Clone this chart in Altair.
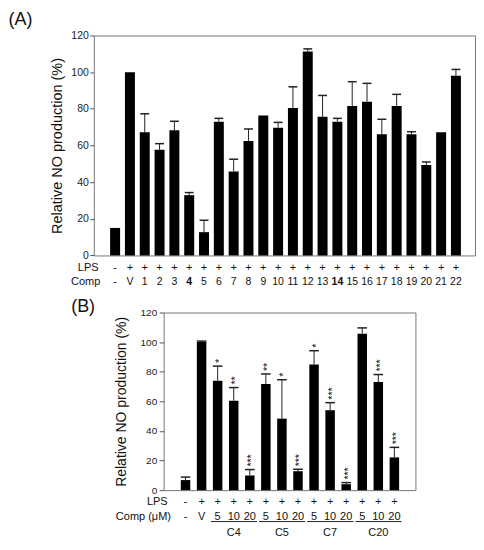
import altair as alt
import pandas as pd

# ---------------- Panel A data ----------------
comp_a = ["-", "V"] + [str(k) for k in range(1, 23)]
lps_a = ["-"] + ["+"] * 23
val_a = [15.0, 100.0, 67.2, 57.6, 68.3, 32.9, 12.7, 73.0, 45.8, 62.5, 76.4, 69.7,
         80.4, 111.3, 75.7, 73.0, 81.5, 83.9, 66.1, 81.5, 66.1, 49.4, 67.2, 98.0]
err_a = [0, 0, 10.1, 3.4, 4.9, 1.4, 6.5, 1.8, 6.7, 6.5, 0, 2.9,
         11.6, 1.4, 11.6, 1.8, 13.3, 10.0, 8.2, 6.4, 1.4, 1.6, 0, 3.5]
bold_a = ["4", "14"]

# ---------------- Panel B data ----------------
comp_b = ["-", "V", "5", "10", "20", "5", "10", "20", "5", "10", "20", "5", "10", "20"]
lps_b = ["-"] + ["+"] * 13
val_b = [6.8, 100.0, 73.9, 60.4, 9.9, 71.7, 48.3, 12.8, 84.9, 54.0, 4.0, 105.7, 73.0, 22.1]
err_b = [2.0, 0.7, 9.9, 8.9, 4.0, 6.8, 26.3, 1.3, 9.3, 5.1, 1.1, 3.9, 5.1, 6.8]
star_b = ["", "", "*", "**", "***", "**", "*", "***", "*", "***", "***", "", "***", "***"]
groups_b = ["C4", "C5", "C7", "C20"]

YTITLE = "Relative NO production (%)"
TXT = "#111111"
FRAME = "#777777"


def make_df(comp, lps, val, err):
    df = pd.DataFrame({"comp": comp, "lps": lps, "val": val, "err": err})
    df["i"] = range(len(df))
    df["top"] = df["val"] + df["err"]
    df["xl"] = df["i"] - 0.3
    df["xr"] = df["i"] + 0.3
    return df


one = pd.DataFrame({"a": [0]})


def panel(df, W, H, xdom, bar_size, yaxis, rows, tag, anchors):
    xs = alt.Scale(domain=xdom, nice=False, zero=False)
    ys = alt.Scale(domain=[0, 120], nice=False, zero=False)
    X = lambda f: alt.X(f, scale=xs, axis=None)
    Y = lambda f: alt.Y(f, scale=ys, title=YTITLE, axis=yaxis)
    base = alt.Chart(df)
    bars = base.mark_bar(size=bar_size, color="black", orient="vertical").encode(
        x=X("i:Q"),
        y=alt.Y("val:Q", scale=ys, stack=None, title=YTITLE, axis=yaxis),
    )
    eb = base.transform_filter("datum.err > 0")
    eline = eb.mark_rule(color="#222222", strokeWidth=1).encode(
        x=X("i:Q"), y=Y("val:Q"), y2="top:Q")
    ecap = eb.mark_rule(color="#222222", strokeWidth=1.5).encode(
        x=X("xl:Q"), x2="xr:Q", y=Y("top:Q"))
    layers = [bars, eline, ecap]
    layers += rows(df, X, Y)
    layers.append(alt.Chart(one).mark_text(
        align="left", baseline="top", fontSize=18, color=TXT).encode(
        x=alt.value(tag[1]), y=alt.value(tag[2]), text=alt.value(tag[0])))
    for (ax, ay) in anchors:
        layers.append(alt.Chart(one).mark_rule(color="white", opacity=0).encode(
            x=alt.value(ax), x2=alt.value(ax + 1), y=alt.value(ay)))
    return alt.layer(*layers).properties(width=W, height=H)


# ---------------- Panel A ----------------
WA, HA = 382, 220.4
dfa = make_df(comp_a, lps_a, val_a, err_a)
dfa["bold"] = dfa["comp"].isin(bold_a)


def rows_a(df, X, Y):
    b = alt.Chart(df)
    return [
        b.mark_text(fontSize=11, baseline="middle", color=TXT).encode(
            x=X("i:Q"), y=alt.value(HA + 12.8), text="lps:N"),
        b.transform_filter("!datum.bold").mark_text(
            fontSize=10.5, baseline="middle", color=TXT).encode(
            x=X("i:Q"), y=alt.value(HA + 26.5), text="comp:N"),
        b.transform_filter("datum.bold").mark_text(
            fontSize=10.5, baseline="middle", fontWeight="bold", color=TXT).encode(
            x=X("i:Q"), y=alt.value(HA + 26.5), text="comp:N"),
        alt.Chart(one).mark_text(fontSize=11, align="right", baseline="middle", color=TXT).encode(
            x=alt.value(4.8), y=alt.value(HA + 12.8), text=alt.value("LPS")),
        alt.Chart(one).mark_text(fontSize=11, align="right", baseline="middle", color=TXT).encode(
            x=alt.value(6.5), y=alt.value(HA + 26.5), text=alt.value("Comp")),
    ]


axis_a = alt.Axis(values=list(range(0, 121, 20)), grid=False, domain=False,
                  tickSize=4, tickColor="#555555", labelPadding=1.5,
                  labelFontSize=10.5, labelColor="#222222", labelOverlap=False,
                  titleFontSize=14.5, titleFontWeight="normal", titleColor=TXT,
                  titlePadding=6)
panel_a = panel(dfa, WA, HA, [-1.1, 23.95], 10, axis_a, rows_a,
                ("(A)", -85.5, -25), [(-85.5, -26)])

# ---------------- Panel B ----------------
WB, HB = 252.3, 178.0
dfb = make_df(comp_b, lps_b, val_b, err_b)
dfb["star"] = star_b
gdf = pd.DataFrame({"g": groups_b})
gdf["k"] = range(len(gdf))
gdf["gs"] = 2 + 3 * gdf["k"] - 0.42
gdf["ge"] = 4 + 3 * gdf["k"] + 0.45
gdf["gm"] = 3 + 3 * gdf["k"]


def rows_b(df, X, Y):
    b = alt.Chart(df)
    g = alt.Chart(gdf)
    return [
        b.mark_text(fontSize=10.5, angle=270, align="left", baseline="middle",
                    dx=3, dy=2.5, color=TXT).encode(
            x=X("i:Q"), y=Y("top:Q"), text="star:N"),
        b.mark_text(fontSize=11, baseline="middle", color=TXT).encode(
            x=X("i:Q"), y=alt.value(HB + 11.5), text="lps:N"),
        b.mark_text(fontSize=11, baseline="middle", color=TXT).encode(
            x=X("i:Q"), y=alt.value(HB + 26.5), text="comp:N"),
        g.mark_rule(color="#222222", strokeWidth=1).encode(
            x=X("gs:Q"), x2="ge:Q", y=alt.value(HB + 31.5)),
        g.mark_text(fontSize=11, baseline="middle", color=TXT).encode(
            x=X("gm:Q"), y=alt.value(HB + 42.5), text="g:N"),
        alt.Chart(one).mark_text(fontSize=11, align="right", baseline="middle", color=TXT).encode(
            x=alt.value(4), y=alt.value(HB + 11.5), text=alt.value("LPS")),
        alt.Chart(one).mark_text(fontSize=11, align="right", baseline="middle", color=TXT).encode(
            x=alt.value(7.3), y=alt.value(HB + 26.5), text=alt.value("Comp (μM)")),
    ]


axis_b = alt.Axis(values=list(range(0, 121, 20)), grid=False, domain=False,
                  tickSize=4.5, tickColor="#555555", labelPadding=2.5,
                  labelFontSize=10, labelColor="#222222", labelOverlap=False,
                  titleFontSize=14, titleFontWeight="normal", titleColor=TXT,
                  titlePadding=12)
panel_b = panel(dfb, WB, HB, [-1.05, 14.0], 9.5, axis_b, rows_b,
                ("(B)", -92.7, -15), [])

spacer = alt.Chart(one).mark_point(opacity=0).encode(
    x=alt.value(0), y=alt.value(0)
).properties(width=69.2, height=10, view=alt.ViewBackground(stroke="transparent"))

row_b = alt.hconcat(spacer, panel_b, spacing=0, bounds="flush")

chart = alt.vconcat(panel_a, row_b, spacing=56.6, bounds="flush").properties(
    padding=0
).configure(font="Liberation Sans").configure_view(stroke=FRAME, strokeWidth=1)

chart.save("out.html", embed_options={"renderer": "svg", "actions": False})
